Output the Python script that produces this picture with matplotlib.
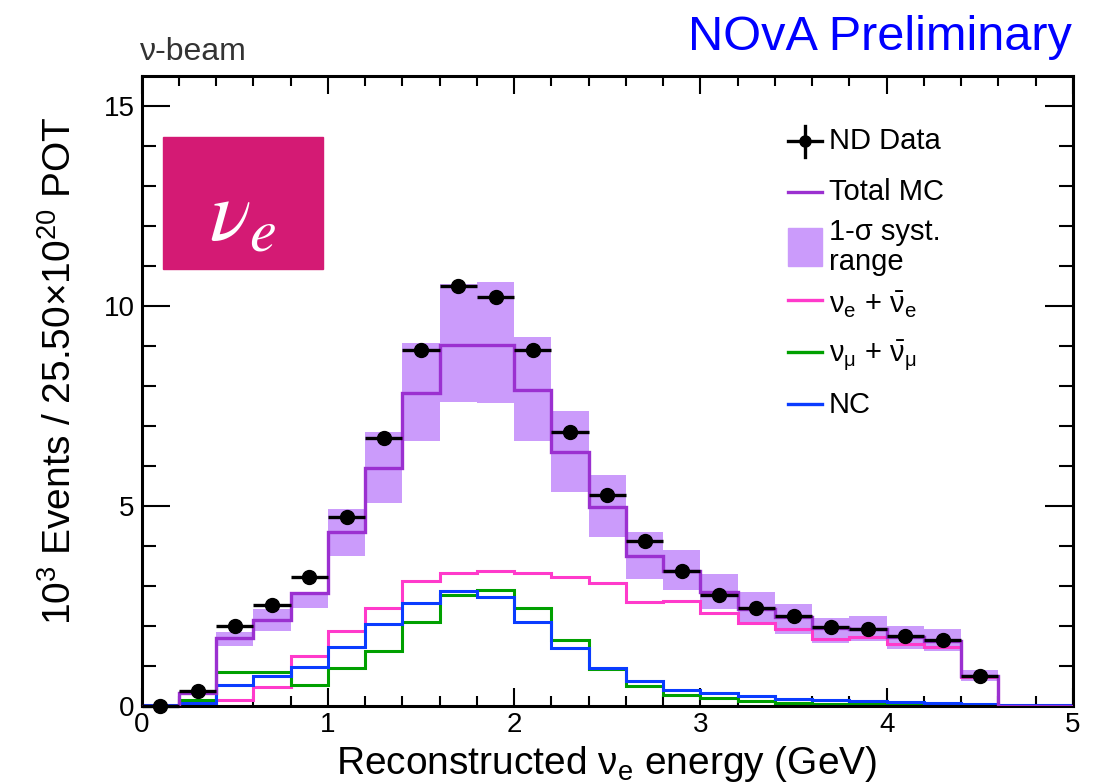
import numpy as np
import matplotlib
matplotlib.use("Agg")
import matplotlib.pyplot as plt
from matplotlib.patches import Rectangle
from matplotlib.lines import Line2D

plt.rcParams['font.family'] = ['Liberation Sans', 'DejaVu Sans']
plt.rcParams['mathtext.fontset'] = 'custom'
plt.rcParams['mathtext.rm'] = 'Liberation Sans'
plt.rcParams['mathtext.it'] = 'Liberation Sans:italic'
plt.rcParams['mathtext.bf'] = 'Liberation Sans:bold'
plt.rcParams['mathtext.sf'] = 'Liberation Sans'

# ---------------- data ----------------
bin_edges = np.round(np.arange(0, 5.0001, 0.2), 2)

nd_data = [0.0, 0.38, 2.00, 2.53, 3.23, 4.73, 6.70, 8.90, 10.49, 10.23, 8.90, 6.84,
           5.27, 4.12, 3.38, 2.77, 2.44, 2.24, 1.97, 1.92, 1.76, 1.65, 0.74]

total_mc = [0.0, 0.33, 1.69, 2.15, 2.82, 4.34, 5.94, 7.83, 9.02, 9.02, 7.91, 6.34,
            4.98, 3.76, 3.38, 2.84, 2.42, 2.22, 1.95, 1.93, 1.72, 1.63, 0.75, 0.0, 0.0]

syst_lo = [0.0, 0.27, 1.49, 1.88, 2.44, 3.76, 5.07, 6.63, 7.61, 7.57, 6.63, 5.34,
           4.22, 3.17, 2.90, 2.42, 2.07, 1.80, 1.57, 1.62, 1.42, 1.37, 0.63, 0.0, 0.0]
syst_hi = [0.0, 0.38, 1.85, 2.42, 2.84, 4.92, 6.84, 9.07, 10.55, 10.60, 9.22, 7.38,
           5.77, 4.34, 3.90, 3.30, 2.84, 2.55, 2.20, 2.24, 2.00, 1.92, 0.90, 0.0, 0.0]

nue = [0.0, 0.03, 0.16, 0.47, 1.26, 1.87, 2.46, 3.12, 3.32, 3.37, 3.32, 3.22,
       3.07, 2.59, 2.63, 2.33, 2.07, 1.92, 1.67, 1.72, 1.55, 1.48, 0.72, 0.0, 0.0]
numu = [0.0, 0.15, 0.86, 0.86, 0.53, 0.95, 1.37, 2.09, 2.77, 2.90, 2.45, 1.65,
        0.92, 0.51, 0.28, 0.19, 0.12, 0.07, 0.06, 0.05, 0.04, 0.03, 0.01, 0.0, 0.0]
nc = [0.03, 0.07, 0.53, 0.74, 0.97, 1.48, 2.05, 2.57, 2.88, 2.72, 2.11, 1.45,
      0.95, 0.62, 0.40, 0.32, 0.24, 0.17, 0.15, 0.12, 0.10, 0.08, 0.04, 0.03, 0.03]

x_ticks = [0, 1, 2, 3, 4, 5]
y_ticks = [0, 5, 10, 15]

C_MC = '#9B30D0'
C_BAND = '#CB9BFB'
C_NUE = '#FF3ACB'
C_NUMU = '#00A000'
C_NC = '#0A3CFF'

W, H = 1102, 782
fig = plt.figure(figsize=(W / 100, H / 100), dpi=100)
ax = fig.add_axes([141.7 / W, 1 - 706 / H, (1073 - 141.7) / W, 630 / H])

centers = (bin_edges[:-1] + bin_edges[1:]) / 2
widths = np.diff(bin_edges)
lo = np.array(syst_lo)
hi = np.array(syst_hi)
ax.bar(centers, hi - lo, bottom=lo, width=widths, color=C_BAND, linewidth=0, zorder=1)

ax.stairs(nue, bin_edges, color=C_NUE, lw=2.2, zorder=2)
ax.stairs(numu, bin_edges, color=C_NUMU, lw=2.2, zorder=2)
ax.stairs(nc, bin_edges, color=C_NC, lw=2.2, zorder=2)
ax.stairs(total_mc, bin_edges, color=C_MC, lw=2.4, zorder=3)

n = len(nd_data)
ax.errorbar(centers[:n], nd_data, xerr=widths[:n] / 2, fmt='o', color='black',
            ms=10, elinewidth=2.4, capsize=0, zorder=4, clip_on=False)

ax.set_xlim(0, 5)
ax.set_ylim(0, 15.75)
ax.set_xticks(x_ticks)
ax.set_yticks(y_ticks)
ax.set_xticks(np.arange(0, 5.001, 0.2), minor=True)
ax.set_yticks(np.arange(0, 15.5, 1), minor=True)
ax.tick_params(axis='both', which='both', direction='in', top=True, right=True,
               labelsize=20, width=1.5, color='black')
ax.tick_params(axis='x', which='major', length=13, pad=4)
ax.tick_params(axis='x', which='minor', length=7)
ax.tick_params(axis='y', which='major', length=20, pad=5)
ax.tick_params(axis='y', which='minor', length=10)
for s in ax.spines.values():
    s.set_linewidth(2.2)


def fx(px):
    return px / W


def fy(py):
    return 1 - py / H


fig.text(fx(607), fy(774), r'Reconstructed $\mathrm{\nu_{e}}$ energy (GeV)',
         fontsize=28, ha='center', va='baseline')
fig.text(fx(60), fy(371), r'$\mathrm{10^{3}}$ Events / 25.50×$\mathrm{10^{20}}$ POT',
         fontsize=28, ha='center', va='center', rotation=90)
fig.text(fx(1072), fy(50), 'NOvA Preliminary', fontsize=35, color='#0000FF',
         ha='right', va='baseline')
fig.text(fx(140), fy(60), 'ν-beam', fontsize=23, color='#333333',
         ha='left', va='baseline')

# nu_e box
fig.add_artist(Rectangle((fx(163), fy(269)), 160 / W, 132 / H,
                         transform=fig.transFigure, color='#D41A74', zorder=5))
fig.text(fx(243), fy(218), r'$\nu_e$', math_fontfamily='stix', fontsize=62,
         color='white', ha='center', va='center', zorder=6)

# legend
lx0, lx1, tx = 788, 822, 829
fs_leg = 21
fig.add_artist(Line2D([fx(lx0), fx(lx1)], [fy(141), fy(141)], color='black', lw=2.4,
                      transform=fig.transFigure))
fig.add_artist(Line2D([fx(805), fx(805)], [fy(126), fy(157)], color='black', lw=2.4,
                      transform=fig.transFigure))
fig.add_artist(Line2D([fx(805)], [fy(141)], color='black', marker='o', ms=8, lw=0,
                      transform=fig.transFigure))
fig.text(fx(tx), fy(141), 'ND Data', fontsize=fs_leg, va='center', ha='left')

fig.add_artist(Line2D([fx(lx0), fx(lx1)], [fy(192), fy(192)], color=C_MC, lw=2.4,
                      transform=fig.transFigure))
fig.text(fx(tx), fy(192), 'Total MC', fontsize=fs_leg, va='center', ha='left')

fig.add_artist(Rectangle((fx(lx0), fy(266)), (lx1 - lx0) / W, 38 / H,
                         transform=fig.transFigure, color=C_BAND))
fig.text(fx(tx), fy(232), '1-σ syst.', fontsize=fs_leg, va='center', ha='left')
fig.text(fx(tx), fy(262), 'range', fontsize=fs_leg, va='center', ha='left')

fig.add_artist(Line2D([fx(lx0), fx(lx1)], [fy(300), fy(300)], color=C_NUE, lw=2.4,
                      transform=fig.transFigure))
fig.text(fx(tx), fy(305), r'$\mathrm{\nu_{e}}$ + $\mathrm{\bar{\nu}_{e}}$', fontsize=fs_leg,
         va='center', ha='left')

fig.add_artist(Line2D([fx(lx0), fx(lx1)], [fy(352), fy(352)], color=C_NUMU, lw=2.4,
                      transform=fig.transFigure))
fig.text(fx(tx), fy(356), r'$\mathrm{\nu_{\mu}}$ + $\mathrm{\bar{\nu}_{\mu}}$', fontsize=fs_leg,
         va='center', ha='left')

fig.add_artist(Line2D([fx(lx0), fx(lx1)], [fy(404), fy(404)], color=C_NC, lw=2.4,
                      transform=fig.transFigure))
fig.text(fx(tx), fy(405), 'NC', fontsize=fs_leg, va='center', ha='left')

fig.savefig('out.png', dpi=100)
